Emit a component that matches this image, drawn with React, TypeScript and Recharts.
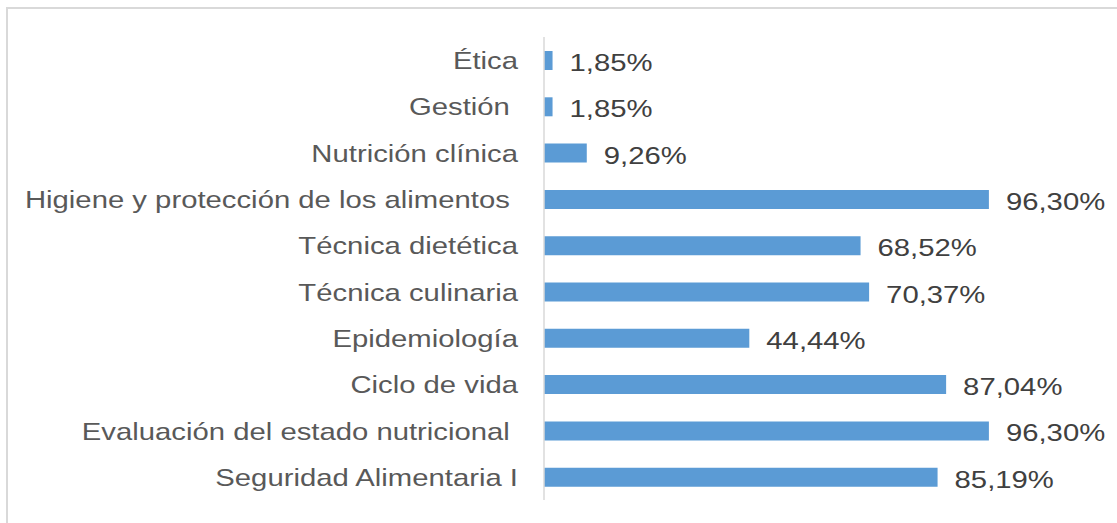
import { BarChart, Bar, XAxis, YAxis, LabelList } from 'recharts'

const categories = [
  'Ética',
  'Gestión\u00A0',
  'Nutrición clínica',
  'Higiene y protección de los alimentos\u00A0',
  'Técnica dietética',
  'Técnica culinaria',
  'Epidemiología',
  'Ciclo de vida',
  'Evaluación del estado nutricional\u00A0',
  'Seguridad Alimentaria I',
]

const percentages = [1.85, 1.85, 9.26, 96.3, 68.52, 70.37, 44.44, 87.04, 96.3, 85.19]

const data = categories.map((name, i) => ({ name, value: percentages[i] }))

const fmt = (v: any) => `${Number(v).toFixed(2).replace('.', ',')}%`

// the source image is stretched sideways, so the text is too
const STRETCH = 1.22
const FONT = 'Liberation Sans, Arial, sans-serif'

const CategoryTick = ({ x, y, payload }: any) => (
  <text
    transform={`translate(${x},${y + 9}) scale(${STRETCH},1)`}
    textAnchor="end"
    fontSize={24}
    fill="#595959"
    fontFamily={FONT}
  >
    {payload.value}
  </text>
)

const ValueLabel = ({ x, y, width, height, value }: any) => (
  <text
    transform={`translate(${x + width + 17},${y + height / 2 + 10.5}) scale(${STRETCH},1)`}
    fontSize={24}
    fill="#404040"
    fontFamily={FONT}
  >
    {fmt(value)}
  </text>
)

export default function App() {
  return (
    <div style={{ position: 'fixed', left: 0, top: 0, width: 1117, height: 523, background: '#fff' }}>
      <div
        style={{
          position: 'absolute', left: 6, top: 7, width: 1200, height: 600,
          borderLeft: '2px solid #d9d9d9', borderTop: '2px solid #d9d9d9',
        }}
      />
      <div style={{ position: 'absolute', left: 0, top: 0 }}>
        <BarChart
          width={1117}
          height={523}
          data={data}
          layout="vertical"
          margin={{ top: 37, right: 111, bottom: 23, left: 0 }}
          barSize={19}
        >
          <XAxis type="number" domain={[0, 100]} hide />
          <YAxis
            type="category"
            dataKey="name"
            width={544}
            tickLine={false}
            tickSize={0}
            tickMargin={26}
            axisLine={{ stroke: '#d9d9d9', strokeWidth: 1.5 }}
            tick={<CategoryTick />}
            interval={0}
          />
          <Bar dataKey="value" fill="#5b9bd5" isAnimationActive={false}>
            <LabelList dataKey="value" content={<ValueLabel />} />
          </Bar>
        </BarChart>
      </div>
    </div>
  )
}
